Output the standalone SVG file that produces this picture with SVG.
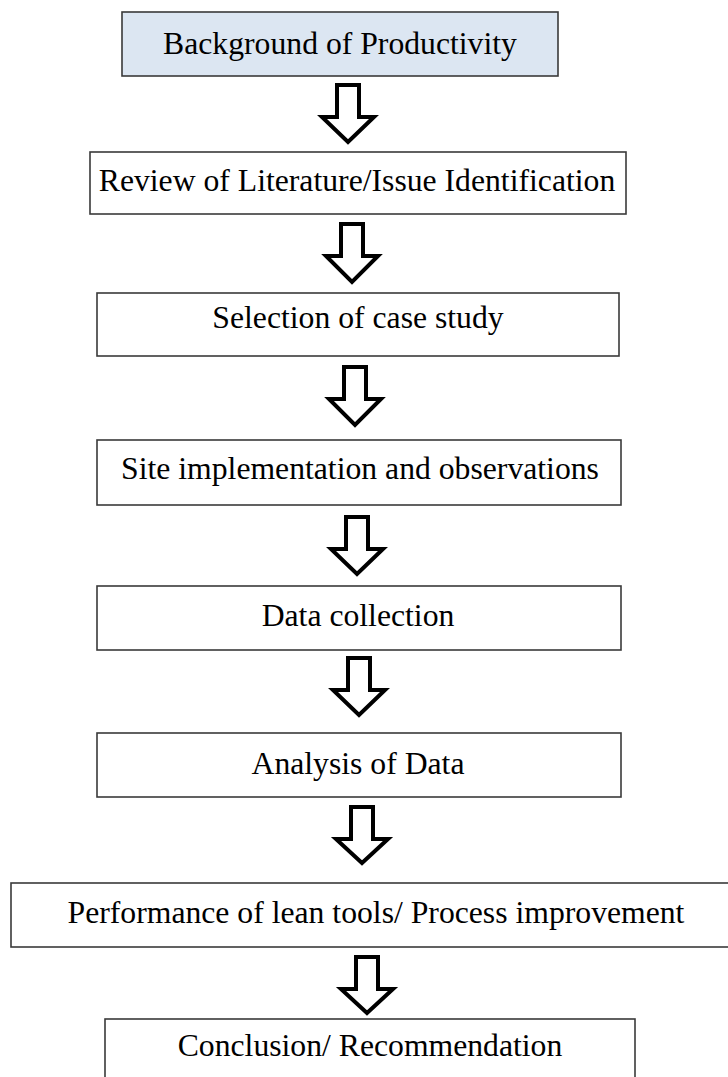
<svg xmlns="http://www.w3.org/2000/svg" width="728" height="1077" viewBox="0 0 728 1077">
  <style>
    .box { fill: #ffffff; stroke: #3a3a3a; stroke-width: 1.6; }
    .box.start { fill: #dce6f2; }
    .label { font-family: "Liberation Serif", "Times New Roman", serif; font-size: 31.7px; fill: #000000; text-anchor: middle; }
    .arrow { fill: #ffffff; stroke: #000000; stroke-width: 4; stroke-linejoin: miter; stroke-miterlimit: 10; }
  </style>
  <rect width="728" height="1077" fill="#ffffff"/>

  <!-- hollow block arrows between steps -->
  <g id="connectors">
    <path class="arrow" d="M337,85 H359 V117 H374 L348,142 L322,117 H337 Z"/>
    <path class="arrow" d="M341,224 H363 V256 H378 L352,282 L326,256 H341 Z"/>
    <path class="arrow" d="M344,367 H366 V399 H381 L355,425 L329,399 H344 Z"/>
    <path class="arrow" d="M346,517 H368 V549 H383 L357,574 L331,549 H346 Z"/>
    <path class="arrow" d="M348,658 H370 V690 H385 L359,715 L333,690 H348 Z"/>
    <path class="arrow" d="M351,807 H373 V839 H388 L362,863 L336,839 H351 Z"/>
    <path class="arrow" d="M356,957 H378 V989 H393 L367,1013 L341,989 H356 Z"/>
  </g>

  <g id="background">
    <rect class="box start" x="122" y="12" width="436" height="64"/>
    <text class="label" x="340" y="54">Background of Productivity</text>
  </g>
  <g id="review">
    <rect class="box" x="90" y="152" width="536" height="62"/>
    <text class="label" x="357" y="191">Review of Literature/Issue Identification</text>
  </g>
  <g id="selection">
    <rect class="box" x="97" y="293" width="522" height="63"/>
    <text class="label" x="358" y="328">Selection of case study</text>
  </g>
  <g id="site">
    <rect class="box" x="97" y="440" width="524" height="65"/>
    <text class="label" x="360" y="479">Site implementation and observations</text>
  </g>
  <g id="data-collection">
    <rect class="box" x="97" y="586" width="524" height="64"/>
    <text class="label" x="358" y="626">Data collection</text>
  </g>
  <g id="analysis">
    <rect class="box" x="97" y="733" width="524" height="64"/>
    <text class="label" x="358" y="774">Analysis of Data</text>
  </g>
  <g id="performance">
    <rect class="box" x="11" y="883" width="730" height="64"/>
    <text class="label" x="376" y="923">Performance of lean tools/ Process improvement</text>
  </g>
  <g id="conclusion">
    <rect class="box" x="105" y="1019" width="530" height="70"/>
    <text class="label" x="370" y="1056">Conclusion/ Recommendation</text>
  </g>
</svg>
